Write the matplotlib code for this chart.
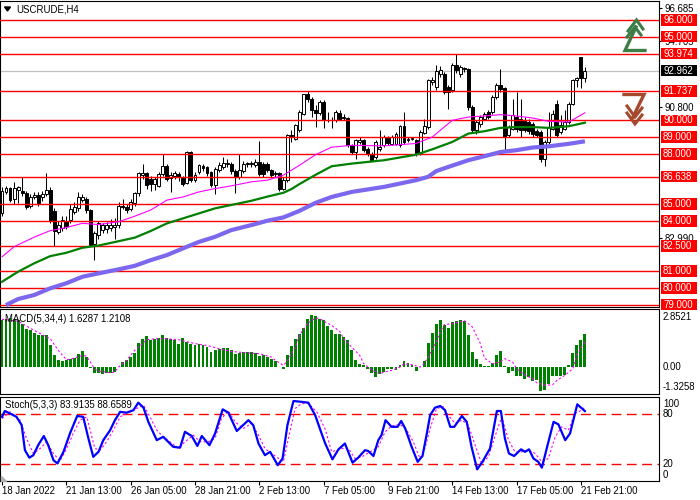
import matplotlib
matplotlib.use("Agg")
import matplotlib.pyplot as plt
import matplotlib.transforms as mtrans
from matplotlib.patches import Rectangle, Polygon
import numpy as np

plt.rcParams['font.family'] = ['Liberation Sans', 'DejaVu Sans']

# ---------------- data ----------------
symbol_title = "USCRUDE,H4"

opens = [84.5, 85.7, 85.95, 85.3, 85.85, 85.8, 85.65, 84.9, 85.4, 85.55,
         85.4, 85.6, 85.85, 84.6, 83.35, 83.55, 84.0, 84.05, 84.55, 84.75,
         85.25, 85.3, 84.64, 82.6, 83.15, 83.45, 83.5, 83.6, 83.65, 83.75,
         84.9, 84.85, 84.7, 85.05, 85.64, 86.75, 86.83, 86.5,
         86.2, 86.09, 86.77, 87.26, 86.55, 86.7, 86.8, 86.55, 86.27, 88.12,
         86.47, 86.92, 87.3, 87.2, 86.9, 86.17, 87.02, 87.22, 87.42, 87.42,
         87.0, 86.63, 86.96, 87.38, 87.38, 87.32, 87.52, 87.42, 87.42, 87.02,
         86.8, 86.83, 85.93, 86.43, 89.1, 88.91,
         89.41, 90.4, 91.55, 91.29, 90.6, 90.45, 91.1, 90.0, 90.0, 90.0,
         90.45, 90.2, 90.16, 88.51, 88.12, 88.7, 88.81, 88.3, 88.02, 87.82,
         88.32, 88.55, 88.97, 88.61, 88.61, 88.51, 89.65, 88.8, 88.88, 88.85,
         88.05, 89.25, 89.6, 92.3,
         91.99, 92.78, 92.78, 91.99, 91.79, 93.32, 92.78, 93.1, 93.08, 90.8,
         89.41, 89.8, 90.1, 90.5, 90.5, 91.39, 92.13, 91.93, 89.11, 89.5,
         90.2, 90.1, 90.0, 89.9, 89.8, 89.35, 89.31, 87.68, 88.71, 89.5,
         90.99, 89.3, 89.5, 89.9, 91.0, 92.4, 93.75, 92.55]
highs = [86.0, 86.1, 86.0, 86.3, 86.1, 86.6, 85.8, 85.6, 85.75, 85.7,
         85.8, 86.85, 86.0, 84.8, 84.0, 84.3, 84.3, 85.0, 85.1, 85.7,
         85.6, 85.4, 84.7, 83.4, 84.0, 83.9, 83.95, 84.1, 84.2, 85.1,
         85.3, 85.0, 85.3, 85.75, 86.9, 87.4, 86.9, 86.7,
         86.6, 86.9, 87.98, 87.4, 86.9, 87.0, 86.9, 86.7, 88.2, 88.2,
         86.9, 87.4, 87.4, 87.3, 87.0, 87.2, 87.5, 87.8, 87.7, 87.5,
         87.1, 88.02, 87.6, 87.5, 87.6, 87.7, 88.75, 87.5, 87.5, 87.1,
         86.95, 86.9, 86.6, 89.2, 89.4, 89.8,
         90.6, 91.6, 91.75, 91.4, 90.9, 91.2, 91.2, 90.5, 90.2, 90.6,
         90.6, 90.4, 90.2, 88.6, 88.9, 89.0, 88.9, 88.4, 88.1, 88.8,
         89.45, 89.1, 89.05, 89.1, 89.3, 89.7, 90.5, 89.0, 89.0, 88.9,
         89.4, 90.1, 92.45, 92.6,
         93.28, 93.24, 92.9, 92.1, 93.4, 93.97, 93.3, 93.2, 93.15, 90.9,
         90.0, 90.3, 90.5, 90.6, 91.5, 92.2, 93.08, 92.0, 89.7, 91.29,
         91.69, 91.3, 90.2, 90.1, 89.9, 89.5, 89.4, 88.8, 90.5, 90.6,
         91.2, 90.3, 90.6, 91.1, 92.45, 92.6, 93.8, 93.2]
lows = [84.3, 85.6, 85.1, 85.0, 85.05, 85.5, 84.7, 84.8, 85.3, 84.9,
        85.2, 85.5, 83.9, 82.5, 83.2, 83.4, 83.5, 83.9, 84.4, 84.6,
        85.1, 84.5, 82.5, 81.66, 82.9, 83.3, 83.3, 83.4, 82.9, 83.6,
        84.7, 84.5, 84.6, 84.9, 85.5, 86.5, 85.9, 85.8,
        85.83, 86.0, 86.7, 86.4, 85.7, 86.5, 86.4, 86.1, 86.2, 86.3,
        86.3, 86.8, 87.0, 86.7, 86.0, 85.63, 86.9, 87.1, 87.2, 86.8,
        85.68, 86.5, 86.85, 87.2, 87.2, 87.2, 86.7, 86.6, 86.9, 86.6,
        86.6, 85.8, 85.85, 86.3, 88.7, 88.8,
        89.3, 90.3, 91.1, 90.2, 89.6, 90.3, 89.57, 89.9, 89.57, 89.9,
        90.0, 90.0, 88.4, 88.0, 87.7, 88.6, 88.1, 87.9, 87.6, 87.7,
        88.2, 88.4, 88.5, 88.5, 88.5, 88.4, 88.6, 88.7, 88.8, 87.9,
        87.95, 89.2, 89.5, 92.1,
        91.8, 92.6, 91.6, 90.7, 91.7, 92.8, 92.6, 92.9, 90.6, 89.3,
        89.2, 89.6, 90.0, 90.1, 90.4, 91.3, 91.7, 88.22, 89.0, 89.4,
        89.3, 89.0, 89.3, 89.2, 89.0, 89.0, 87.5, 87.3, 88.6, 89.4,
        89.0, 89.2, 89.4, 89.8, 90.9, 91.99, 91.95, 92.3]
closes = [85.8, 85.95, 85.25, 85.95, 86.05, 85.65, 84.85, 85.4, 85.55, 85.05,
          85.6, 85.85, 84.05, 83.4, 83.75, 84.05, 83.7, 84.74, 84.84, 85.45,
          85.45, 84.64, 82.56, 83.25, 83.85, 83.75, 83.75, 83.75, 83.75, 84.87,
          84.85, 84.65, 85.1, 85.64, 86.83, 86.85, 86.15, 86.2,
          86.5, 86.77, 87.26, 86.53, 86.73, 86.83, 86.6, 86.23, 88.12, 86.43,
          86.73, 87.32, 87.18, 86.88, 86.13, 87.08, 87.32, 87.46, 87.44, 86.96,
          86.63, 87.02, 87.42, 87.38, 87.4, 87.52, 86.77, 86.77, 87.02, 86.73,
          86.85, 85.93, 86.43, 89.11, 89.05, 89.7,
          90.5, 91.55, 91.29, 90.6, 90.45, 91.1, 90.0, 90.05, 90.0, 90.5,
          90.1, 90.16, 88.51, 88.12, 88.81, 88.81, 88.22, 88.02, 87.66, 88.71,
          88.41, 89.01, 88.65, 89.01, 89.21, 89.65, 88.71, 88.88, 88.88, 88.02,
          89.31, 89.65, 92.38, 92.42,
          92.92, 92.98, 91.69, 91.69, 93.32, 92.98, 93.18, 93.08, 90.8, 89.41,
          89.9, 90.2, 90.4, 90.2, 91.39, 92.13, 91.85, 89.01, 89.6, 90.3,
          89.5, 89.41, 89.41, 89.35, 89.21, 89.11, 87.68, 88.71, 89.6, 90.4,
          89.11, 89.7, 89.9, 91.0, 92.38, 92.5, 92.55, 92.962]

# moving averages (bar index, price)
ma_fast_t = [0, 3, 8, 12, 16, 20, 24, 29, 33, 37, 41, 45, 49, 53, 57, 62, 66, 70, 74, 78,
             82, 87, 95, 103, 107, 112, 116, 120, 124, 128, 132, 136, 141, 145]
ma_fast_v = [81.86, 82.46, 83.03, 83.42, 83.6, 83.86, 83.78, 83.95, 84.28, 84.65,
             85.24, 85.43, 85.73, 85.93, 86.09, 86.33, 86.43, 86.73, 87.32, 87.95,
             88.4, 88.51, 88.48, 88.62, 89.0, 90.0, 90.2, 90.26, 90.34, 90.26,
             90.14, 89.94, 89.9, 90.45]
ma_mid_t = [0, 4, 8, 12, 16, 20, 24, 29, 33, 37, 41, 45, 49, 53, 57, 62, 66, 70, 72, 74,
            78, 82, 87, 95, 103, 107, 112, 116, 120, 124, 128, 132, 136, 141, 145]
ma_mid_v = [80.37, 80.97, 81.47, 81.9, 82.1, 82.4, 82.53, 82.79, 83.0, 83.4,
            83.85, 84.15, 84.45, 84.75, 84.95, 85.2, 85.45, 85.68, 85.9, 86.2,
            86.75, 87.26, 87.42, 87.62, 87.95, 88.27, 88.71, 89.21, 89.35, 89.55,
            89.6, 89.6, 89.55, 89.65, 89.86]
ma_slow_t = [1, 4, 8, 12, 16, 20, 24, 29, 33, 37, 41, 45, 49, 53, 57, 62, 66, 70, 74, 78,
             82, 87, 95, 103, 106, 108, 111, 116, 120, 124, 128, 132, 136, 141, 145]
ma_slow_v = [78.98, 79.34, 79.58, 79.98, 80.28, 80.67, 80.87, 81.11, 81.32, 81.66,
             81.96, 82.36, 82.75, 83.05, 83.45, 83.75, 84.01, 84.21, 84.6, 85.08,
             85.43, 85.73, 86.03, 86.43, 86.63, 86.97, 87.22, 87.62, 87.86, 88.11,
             88.22, 88.38, 88.45, 88.6, 88.75]

# horizontal levels
level_vals = [96.0, 95.0, 93.974, 91.737, 90.0, 89.0, 88.0, 86.638, 85.0, 84.0,
              82.5, 81.0, 80.0, 79.0]
level_labels = ["96.000", "95.000", "93.974", "91.737", "90.000", "89.000", "88.000",
                "86.638", "85.000", "84.000", "82.500", "81.000", "80.000", "79.000"]
last_price = 92.962
last_label = "92.962"
scale_vals = [96.685, 94.705, 90.800, 82.990]
scale_labels = ["96.685", "94.705", "90.800", "82.990"]

# MACD histogram
macd_hist = [2.29, 2.38, 2.41, 2.38, 2.29, 2.13, 1.88, 1.80, 1.69, 1.59,
             1.56, 1.56, 1.10, 0.57, 0.33, 0.28, 0.33, 0.41, 0.44, 0.66,
             0.77, 0.49, -0.05, -0.29, -0.29, -0.33, -0.29, -0.29, -0.25, 0.02,
             0.25, 0.33, 0.49, 0.70, 1.18, 1.39, 1.51, 1.34, 1.39, 1.44,
             1.56, 1.44, 1.39, 1.31, 1.15, 1.43, 1.23, 1.15, 1.10, 1.15,
             1.10, 0.98, 0.74, 0.82, 0.90, 0.93, 0.95, 0.82, 0.66, 0.69,
             0.74, 0.74, 0.74, 0.70, 0.54, 0.57, 0.49, 0.41, 0.28, 0.02,
             -0.08, 0.61, 1.03, 1.39, 1.64, 1.92, 2.38, 2.57, 2.51, 2.38,
             2.29, 2.02,
             1.80, 1.61, 1.61, 1.47, 1.31, 0.82, 0.33, 0.16, 0.08, -0.08,
             -0.29, -0.49, -0.33, -0.25, -0.08, -0.08, -0.16, 0.08, 0.28, 0.20,
             0.08, -0.20, 0.02, 0.28, 1.18, 1.67, 2.10, 2.29, 2.08, 1.92,
             2.21, 2.26, 2.29, 2.26, 1.56, 0.74, 0.38, 0.16, 0.03, 0.03,
             0.21, 0.57, 0.77, 0.03, -0.29, -0.21, -0.44, -0.44, -0.61, -0.49,
             -0.70, -0.66, -1.20, -1.13, -0.85, -0.46, -0.46, -0.46, -0.38, 0.08,
             0.69, 1.06, 1.31, 1.63]
macd_sig_t = [0, 4, 8, 10, 12, 14, 16, 17, 20, 21, 23, 24, 27, 28, 29, 31, 33, 36, 38, 41,
              44, 48, 51, 54, 57, 61, 64, 67, 68, 70, 71, 73, 74, 76, 78, 79, 81,
              82, 84, 85, 87, 89, 90, 92, 94, 95, 97, 99, 100, 102, 104, 105, 106, 108,
              109, 110, 112, 114, 115, 117, 119, 120, 122, 124, 125, 127, 128, 130, 132,
              133, 135, 137, 138, 140, 142, 143, 144, 145]
macd_sig_v = [2.35, 2.25, 1.80, 1.59, 1.39, 0.82, 0.36, 0.38, 0.57, 0.54, -0.08, -0.2, -0.28,
              -0.25, 0.0, 0.33, 0.82, 1.34, 1.39, 1.39, 1.34, 1.15, 1.06, 0.90, 0.77, 0.69,
              0.66, 0.49, 0.33, 0.08, 0.3, 1.0, 1.55, 2.15, 2.41, 2.38, 2.15,
              2.05, 1.75, 1.39, 0.98, 0.57, 0.16, -0.16, -0.33, -0.25, -0.16, 0.0, 0.16,
              0.11, 0.0, 0.16, 0.49, 1.23, 1.72, 2.08, 2.13, 2.21, 2.29, 1.97, 1.15, 0.44,
              0.16, 0.25, 0.41, 0.25, -0.08, -0.38, -0.57, -0.77, -0.90, -0.87, -0.66,
              -0.41, -0.08, 0.57, 0.95, 1.21]

# Stochastic (bar position, value)
stoch_t = [0, 0.7, 2, 3.6, 4.9, 5.7, 6.8, 7.8, 9, 10.4, 11.5, 12.8, 13.8, 15.3, 16.9, 18.7,
           20.2, 21.5, 22.7, 24, 25.2, 26.9, 28.1, 29.4, 31, 32.7, 33.9, 35.2, 36.4, 38.5,
           40.1, 42.6, 44.3, 45.5, 47.2, 48.6, 49.7, 51.6, 53, 54.9, 56.3, 58.4, 61.3,
           62.5, 63.8, 65.4, 66.7, 68.6, 69.8, 71, 72.5, 74.5, 76.2, 77.9, 79.5, 80.4,
           82.2, 83.7, 85.3, 87.2, 88.6, 90.3, 91.1, 92.4, 93.6, 94.4, 95.4, 96.9, 98.4,
           99.3, 100.3, 101.9, 103.4, 104.6, 105.6, 106.5, 107.7, 109, 110.2, 111.5,
           112.5, 114.4, 115.6, 116.8, 118.2, 119.5, 121.4, 123.1, 124.1, 125.1, 126.1,
           127.4, 129.1, 130.1, 131.1, 132.2, 133.4, 134.3, 135.5, 137.2, 138.4, 140.1,
           141.3, 143.1, 145]
stoch_v = [77, 84, 81, 77, 67, 37, 28, 31, 43, 54, 43, 25, 21, 35, 57, 78,
           77, 51, 29, 35, 49, 61, 73, 83, 82, 85, 94, 88, 71, 49,
           53, 41, 40, 59, 54, 42, 54, 43, 57, 86, 82, 60, 73,
           67, 45, 31, 35, 19, 27, 67, 96, 95, 94, 79, 57, 45,
           26, 38, 45, 22, 28, 37, 36, 30, 49, 55, 73, 65, 65,
           72, 63, 41, 23, 30, 55, 79, 88, 90, 85, 65,
           65, 78, 71, 41, 14, 23, 39, 84, 84, 51, 33,
           30, 38, 35, 38, 27, 23, 16, 39, 71, 68, 49,
           57, 92, 83.9]
stoch_sig_t = [0, 2, 4.5, 6.1, 7.8, 9.5, 11.1, 12.8, 14.4, 16.1, 17.7, 19.4, 21.1, 23.1, 24.4,
               26, 27.7, 29.4, 31, 33.5, 35.2, 36.8, 38.5, 40.1, 41.8, 43.9, 45.5, 47.6, 49.3,
               51.3, 53, 54.6, 56.3, 58, 60, 62.1, 63.8, 65.4, 67.1, 68.8, 70, 71.6, 72.9,
               74.5, 76.2, 78.3, 80.4, 82, 84.5, 86.2, 87.8, 89.5, 91.6, 93.6, 95.3, 96.9,
               99, 100.7, 102.3, 104, 105.2, 106.5, 108.1, 109.8, 111, 112.7, 114.4, 116,
               117.7, 119.3, 121, 122.6, 124.3, 126, 127.6, 129.3, 131, 132.6, 134.3, 135.9,
               137.6, 139.2, 140.9, 142.5, 144.2, 145]
stoch_sig_v = [75, 83, 73, 51, 33, 39, 47, 33, 24, 39, 57, 73, 77, 39, 37,
               47, 61, 77, 81, 87, 91, 77, 61, 53, 47, 39, 47, 55, 47,
               47, 51, 75, 84, 71, 63, 69, 55, 39, 33, 27, 23, 59, 87,
               93, 93, 83, 62, 35, 39, 39, 27, 29, 35, 41, 59, 66,
               68, 61, 47, 27, 39, 63, 87, 89, 79, 69, 73, 67,
               43, 21, 29, 53, 77, 49, 35, 35, 37, 33, 23, 27,
               53, 65, 61, 81, 85, 88.7]

date_idx = [0, 16, 32, 48, 64, 80, 96, 112, 128, 144]
date_labels = ["18 Jan 2022", "21 Jan 13:00", "26 Jan 05:00", "28 Jan 21:00",
               "2 Feb 13:00", "7 Feb 05:00", "9 Feb 21:00", "14 Feb 13:00",
               "17 Feb 05:00", "21 Feb 21:00"]

macd_title = "MACD(5,34,4) 1.6287 1.2108"
stoch_title = "Stoch(5,3,3) 83.9135 88.6589"

# ---------------- figure ----------------
W, H = 700, 500
fig = plt.figure(figsize=(7, 5), dpi=100)
fig.patch.set_facecolor('white')


def rect(top, bottom, right=659):
    return [0.0, 1 - bottom / H, right / W, (bottom - top) / H]


ax = fig.add_axes(rect(0.5, 307))
axm = fig.add_axes(rect(309, 394))
axs = fig.add_axes(rect(396.5, 481))

XL = (-0.4975, 163.43)
FS = 6.9

for a in (ax, axm, axs):
    a.set_xlim(*XL)
    for s in a.spines.values():
        s.set_linewidth(0.8)
        s.set_color('black')
    a.set_facecolor('white')

n = len(closes)
idx = np.arange(n)
o = np.array(opens); h = np.array(highs); l = np.array(lows); c = np.array(closes)
up = c >= o

# main panel
ax.set_ylim(78.865, 97.1495)
ax.axhline(last_price, color='#c0c0c0', lw=0.9, zorder=1)
ax.vlines(idx, l, h, color='black', lw=0.75, zorder=3)
body_b = np.minimum(o, c)
body_h = np.maximum(np.abs(c - o), 0.05)
ax.bar(idx, body_h, bottom=body_b, width=0.72,
       color=['white' if u else 'black' for u in up],
       edgecolor='black', linewidth=0.7, zorder=4)
for v in level_vals:
    ax.axhline(v, color='red', lw=1.0, zorder=4.5)
ax.plot(ma_slow_t, ma_slow_v, color='#7b68ee', lw=3.0, solid_capstyle='butt', zorder=5)
ax.plot(ma_mid_t, ma_mid_v, color='#008000', lw=1.6, zorder=5.2)
ax.plot(ma_fast_t, ma_fast_v, color='#ff00ff', lw=0.8, zorder=5.4)

ax.set_xticks([])
ax.yaxis.tick_right()
ax.set_yticks(scale_vals)
ax.set_yticklabels(scale_labels)
ax.tick_params(axis='y', direction='out', length=2.5, width=0.8, pad=1.2,
               labelsize=FS, colors='black')

tr = mtrans.blended_transform_factory(ax.transAxes, ax.transData)
px_per_unit = 307.0 / (97.1495 - 78.865)
box_h = 11.5 / px_per_unit
for v, lab in zip(level_vals, level_labels):
    ax.add_patch(Rectangle((661 / 659, v - box_h / 2), 36 / 659, box_h, transform=tr,
                           clip_on=False, facecolor='red', edgecolor='none', zorder=6))
    ax.text(663 / 659, v, lab, transform=tr, color='white', fontsize=FS,
            va='center', ha='left', zorder=7, clip_on=False)
ax.add_patch(Rectangle((661 / 659, last_price - box_h / 2), 36 / 659, box_h, transform=tr,
                       clip_on=False, facecolor='black', edgecolor='none', zorder=6))
ax.text(663 / 659, last_price, last_label, transform=tr, color='white', fontsize=FS,
        va='center', ha='left', zorder=7, clip_on=False)

# MACD panel
axm.set_ylim(-1.3258, 2.8521)
axm.bar(idx, macd_hist, width=0.72, color='#008000', zorder=2)
axm.plot(macd_sig_t, macd_sig_v, color='#ff00ff', lw=0.8, ls=(0, (2, 2)), zorder=3)
axm.set_xticks([])
axm.set_yticks([])

# Stochastic panel
axs.set_ylim(0, 101.4)
for lv in (80, 20):
    axs.axhline(lv, color='red', lw=1.0, ls=(0, (7, 4)), zorder=1)
axs.plot(stoch_sig_t, stoch_sig_v, color='#ff00ff', lw=0.8, ls=(0, (2, 2)), zorder=2)
axs.plot(stoch_t, stoch_v, color='#0000ff', lw=1.6, zorder=3)
axs.set_yticks([])
axs.set_xticks(date_idx)
axs.set_xticklabels(date_labels, ha='left')
axs.tick_params(axis='x', direction='out', length=3, width=0.8, pad=0.8,
                labelsize=FS, colors='black')

# overlay in pixel coordinates for panel captions, scale texts and icons
ov = fig.add_axes([0, 0, 1, 1], zorder=10)
ov.set_xlim(0, W)
ov.set_ylim(H, 0)
ov.axis('off')
ov.patch.set_alpha(0)

ov.add_patch(Polygon([(4.5, 7), (10.5, 7), (7.5, 11)], closed=True, color='black'))
ov.text(16, 9, symbol_title, fontsize=FS, va='center', ha='left')
ov.text(5, 319, macd_title, fontsize=FS, va='center', ha='left')
ov.text(5, 405, stoch_title, fontsize=FS, va='center', ha='left')

for txt, yy in (("2.8521", 317), ("0.00", 367.5), ("-1.3258", 387.5)):
    ov.text(663, yy, txt, fontsize=FS, va='center', ha='left')
for txt, yy in (("100", 404), ("80", 414.3), ("20", 464.3), ("0", 474.7)):
    ov.text(663, yy, txt, fontsize=FS, va='center', ha='left')

ov.add_patch(Polygon([(1, 476), (1, 481), (6, 481)], closed=True, color='#b0b0b0'))

green_c = '#3b7d45'
ov.plot([645, 625, 636], [50.5, 50.5, 27], color=green_c, lw=2.4, solid_joinstyle='miter')
ov.plot([628, 636.5, 643], [31, 20, 29], color=green_c, lw=2.2, solid_joinstyle='miter')
ov.plot([627, 635, 641], [37, 27, 35], color=green_c, lw=2.2, solid_joinstyle='miter')

brown_c = '#a5492e'
ov.plot([624, 644, 633], [94.5, 94.5, 117], color=brown_c, lw=2.4, solid_joinstyle='miter')
ov.plot([627, 635, 642], [113, 124, 115], color=brown_c, lw=2.2, solid_joinstyle='miter')
ov.plot([627, 635, 642], [106, 117, 108], color=brown_c, lw=2.2, solid_joinstyle='miter')

fig.savefig("out.png", dpi=100, facecolor='white')
